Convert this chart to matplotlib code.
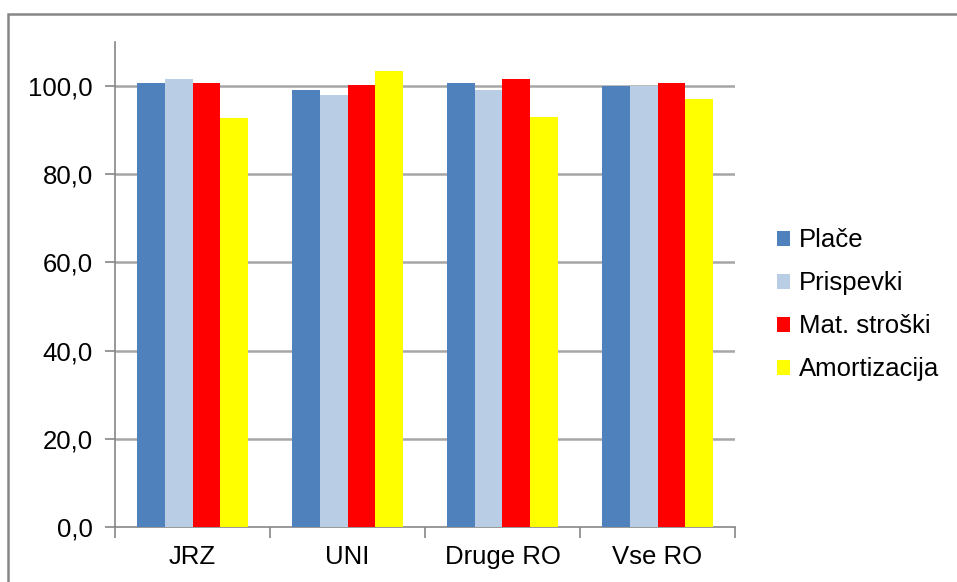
import matplotlib
matplotlib.use("Agg")
import matplotlib.pyplot as plt
import numpy as np
from matplotlib.patches import Rectangle

categories = ["JRZ", "UNI", "Druge RO", "Vse RO"]
series_names = ["Plače", "Prispevki", "Mat. stroški", "Amortizacija"]
place = [100.8, 99.1, 100.6, 100.0]
prispevki = [101.7, 98.0, 99.1, 100.0]
mat_stroski = [100.6, 100.2, 101.7, 100.6]
amortizacija = [92.7, 103.5, 93.0, 97.0]
yticks = [0, 20, 40, 60, 80, 100]
ytick_labels = ["0,0", "20,0", "40,0", "60,0", "80,0", "100,0"]

colors = ["#4F81BD", "#B9CDE5", "#FF0000", "#FFFF00"]
series = [place, prispevki, mat_stroski, amortizacija]

plt.rcParams['font.family'] = ['Liberation Sans', 'DejaVu Sans']
FS = 18.5

fig = plt.figure(figsize=(9.57, 5.82), dpi=100)
# outer frame
fig.patches.append(Rectangle((8/957, -0.1), 1.2, 1 - 14/582 + 0.1, transform=fig.transFigure,
                             fill=False, edgecolor="#868686", linewidth=1.8))
ax = fig.add_axes([115/957, 55/582, 620/957, 485/582])

x = np.arange(len(categories))
w = 0.18
for i, (vals, name, c) in enumerate(zip(series, series_names, colors)):
    ax.bar(x + (i - 1.5) * w, vals, width=w, color=c, label=name, zorder=3)

ax.set_xlim(-0.5, len(categories) - 0.5)
ax.set_ylim(0, 110)
ax.set_yticks(yticks)
ax.set_yticklabels(ytick_labels, fontsize=FS)
ax.set_xticks(x)
ax.set_xticklabels(categories, fontsize=FS)
ax.tick_params(axis='x', length=0, pad=13)
ax.set_xticks(np.arange(len(categories) + 1) - 0.5, minor=True)
ax.tick_params(axis='x', which='minor', length=8, color="#868686", width=1.2)
ax.tick_params(axis='y', length=7, color="#868686", width=1.2, pad=9)
for yv in yticks[1:]:
    ax.axhline(yv, color="#A6A6A6", linewidth=1.8, zorder=1)
for s in ["top", "right"]:
    ax.spines[s].set_visible(False)
for s in ["left", "bottom"]:
    ax.spines[s].set_color("#868686")
    ax.spines[s].set_linewidth(1.2)

leg = ax.legend(loc="center left", bbox_to_anchor=(1.03, 0.458), frameon=False,
                fontsize=FS, handlelength=0.5, handleheight=0.5, handletextpad=0.35,
                labelspacing=0.74)

fig.savefig("out.png", dpi=100)
